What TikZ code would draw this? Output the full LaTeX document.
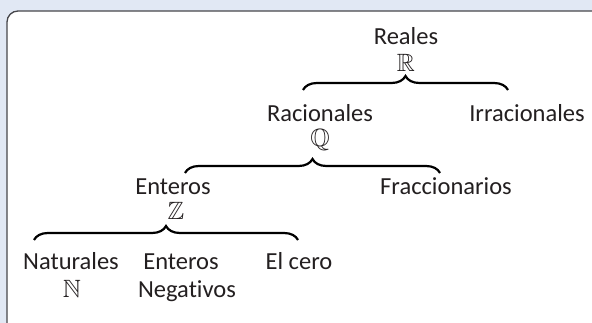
\documentclass[tikz,border=0pt]{standalone}
\usepackage{amssymb}
\usepackage{fontspec}
\setmainfont{Carlito}[Ligatures=NoCommon]
\usetikzlibrary{decorations.pathreplacing}
\definecolor{bgblue}{RGB}{225,232,244}
\definecolor{framegray}{RGB}{70,70,75}
\definecolor{txt}{RGB}{35,31,32}
\tikzset{
  lbl/.style={anchor=base, inner sep=0pt, text=txt, text height=16pt, text depth=4pt, font=\fontsize{24.5}{28}\selectfont},
  sym/.style={anchor=base, inner sep=0pt, text=txt, text height=16pt, text depth=2pt, font=\fontsize{25}{28}\selectfont},
  brc/.style={decorate, decoration={brace, amplitude=14pt}, line width=2.2pt, black}
}
\begin{document}
\begin{tikzpicture}[x=1pt,y=-1pt]
\useasboundingbox (0,0) rectangle (592,323);
\fill[bgblue] (0,0) rectangle (592,323);
\draw[framegray, line width=1.3pt, fill=white, rounded corners=11pt] (7,11) rectangle (640,335);
% labels
\node[lbl] (reales) at (406,45) {Reales};
\node[sym] (R) at (406,72) {$\mathbb{R}$};
\node[lbl] (rac) at (320,122) {Racionales};
\node[sym] (Q) at (320,147) {$\mathbb{Q}$};
\node[lbl] (irr) at (527,122) {Irracionales};
\node[lbl] (ent) at (173,195) {Enteros};
\node[sym] (Z) at (176,220) {$\mathbb{Z}$};
\node[lbl] (fra) at (446,195) {Fraccionarios};
\node[lbl] (nat) at (71,270) {Naturales};
\node[sym] (N) at (72,298) {$\mathbb{N}$};
\node[lbl] (entn) at (181,270) {Enteros};
\node[lbl] (neg) at (187,298) {Negativos};
\node[lbl] (cero) at (299,270) {El cero};
% brace ends
\coordinate (b1l) at (303,90);
\coordinate (b1r) at (508,90);
\coordinate (b2l) at (185,173);
\coordinate (b2r) at (440,173);
\coordinate (b3l) at (34,240);
\coordinate (b3r) at (298,240);
\draw[brc] (b1l) -- (b1r);
\draw[brc] (b2l) -- (b2r);
\draw[brc] (b3l) -- (b3r);
\end{tikzpicture}
\end{document}
